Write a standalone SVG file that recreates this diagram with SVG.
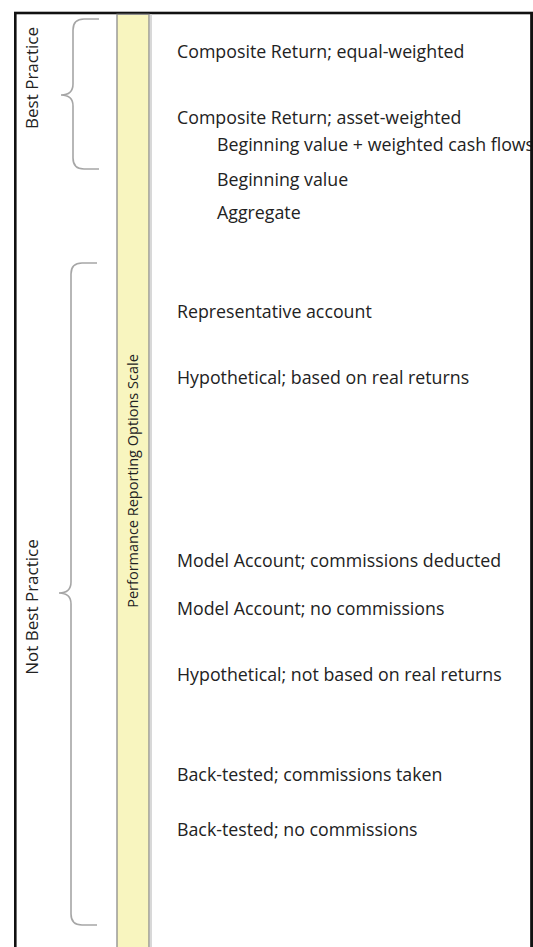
<svg xmlns="http://www.w3.org/2000/svg" width="533" height="947" viewBox="0 0 533 947">
<style>
.lbl{font-family:"Open Sans","Noto Sans",sans-serif;font-size:17.8px;fill:#222}
.side{font-family:"Open Sans","Noto Sans",sans-serif;font-size:17px;fill:#222}
.scale{font-family:"Open Sans","Noto Sans",sans-serif;font-size:14.5px;fill:#222}
.brace{fill:none;stroke:#a6a6a6;stroke-width:1.6}
</style>
<rect x="0" y="0" width="533" height="947" fill="#ffffff"/>
<rect id="frame" x="15.3" y="13" width="516.4" height="960" fill="#ffffff" stroke="#111" stroke-width="2.6"/>
<g id="scale-bar">
<rect x="150" y="14.5" width="2" height="940" fill="#d8d8d8"/>
<rect x="117" y="14.3" width="32" height="940" fill="#f8f5bf" stroke="#8c8c8c" stroke-width="1.3"/>
<text class="scale" transform="translate(138,481) rotate(-90)" text-anchor="middle">Performance Reporting Options Scale</text>
</g>
<g id="best-practice">
<path class="brace" d="M99,19 L84,19 Q73,19 73,30 L73,84 Q73,95 61,95 Q73,95 73,106 L73,158 Q73,169 84,169 L99,169"/>
<text class="side" transform="translate(38,78) rotate(-90)" text-anchor="middle">Best Practice</text>
</g>
<g id="not-best-practice">
<path class="brace" d="M97,263 L82,263 Q71,263 71,274 L71,582 Q71,593 59,593 Q71,593 71,604 L71,914 Q71,925 82,925 L97,925"/>
<text class="side" transform="translate(38,607) rotate(-90)" text-anchor="middle">Not Best Practice</text>
</g>
<g id="options">
<text class="lbl" x="177" y="58">Composite Return; equal-weighted</text>
<text class="lbl" x="177" y="124">Composite Return; asset-weighted</text>
<text class="lbl" x="217" y="151">Beginning value + weighted cash flows</text>
<text class="lbl" x="217" y="186">Beginning value</text>
<text class="lbl" x="217" y="219">Aggregate</text>
<text class="lbl" x="177" y="318">Representative account</text>
<text class="lbl" x="177" y="384">Hypothetical; based on real returns</text>
<text class="lbl" x="177" y="567">Model Account; commissions deducted</text>
<text class="lbl" x="177" y="615">Model Account; no commissions</text>
<text class="lbl" x="177" y="681">Hypothetical; not based on real returns</text>
<text class="lbl" x="177" y="781">Back-tested; commissions taken</text>
<text class="lbl" x="177" y="836">Back-tested; no commissions</text>
</g>
<rect x="530.4" y="12" width="2.6" height="940" fill="#111"/>
</svg>
